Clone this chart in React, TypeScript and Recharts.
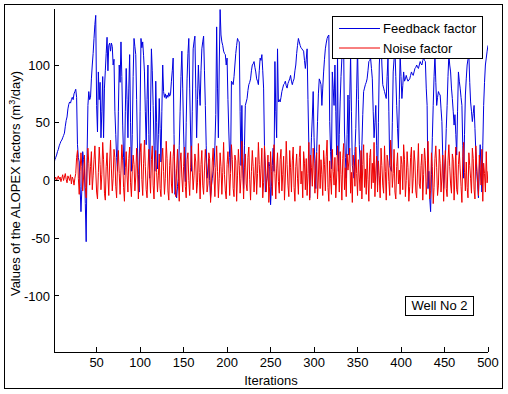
import { LineChart, Line, XAxis, YAxis, Legend, Label } from 'recharts'

const FONT = '"Liberation Sans", Arial, Helvetica, sans-serif'

const xTicks = [50, 100, 150, 200, 250, 300, 350, 400, 450, 500]
const yTicks = [-100, -50, 0, 50, 100]

const seriesNames = ['Feedback factor', 'Noise factor']
const seriesColors = ['#0000e0', '#f00000']

// feedback factor, iterations 1..500 (25 per row)
const feedbackValues = [
  15, 18, 20, 22, 25, 27, 30, 32, 34, 35, 37, 39, 41, 47, 52, 55, 62, 66, 68, 67, 70, 72, 70, 75, 77,
  79, 72, 31, 20, 16, -5, -27, -8, 25, 18, 10, -20, -53, 20, 65, 77, 70, 72, 88, 100, 110, 123, 135, 143, 65,
  42, 94, 70, 85, 37, 60, 90, 37, 80, 95, 110, 124, 95, 117, 119, 112, 119, 116, 100, 105, 60, 40, 20, 8, 60,
  100, 85, 120, 90, 48, 20, 5, 60, 97, 70, 37, 80, 109, 50, 8, 40, 90, 123, 116, 109, 70, 28, 5, -10, 60,
  123, 115, 120, 108, 94, 60, 31, 70, 100, 40, 2, 60, 114, 95, 65, 30, 8, 86, 50, 10, 40, 71, 45, 16, 60,
  100, 77, 72, 75, 71, 74, 72, 76, 73, 75, 86, 95, 106, 40, -12, -8, -15, -5, 2, 30, 60, 90, 112, 80, 42,
  15, -1, 50, 88, 110, 123, 80, 42, 8, 60, 114, 120, 125, 80, 37, 70, 100, 80, 65, 95, 114, 120, 125, 95, 65,
  30, 2, 10, 19, 0, -15, -5, 2, 8, 13, 30, 57, 133, 80, 37, 100, 148, 126, 120, 117, 112, 110, 109, 100, 106,
  70, 42, 20, 8, 86, 85, 83, 90, 100, 110, 117, 123, 121, 120, 60, 13, 65, 20, -7, 30, 65, 68, 71, 78, 83,
  85, 88, 95, 100, 101, 103, 98, 94, 88, 86, 83, 95, 106, 104, 109, 95, 80, 30, -10, -3, 2, 10, 16, 12, -21,
  -5, 13, 28, 8, 103, 60, 37, 114, 68, 70, 68, 72, 77, 80, 83, 84, 86, 82, 80, 84, 86, 88, 91, 86, 83,
  86, 88, 95, 100, 110, 117, 123, 120, 117, 115, 114, 113, 112, 104, 97, 105, 114, 70, 31, -15, 10, 37, 55, 77, 37,
  15, -7, 25, 51, 75, 88, 86, 83, 65, 80, 94, 105, 114, 119, 123, 125, 126, 51, 25, 10, 94, 80, 65, 100, 60,
  22, 109, 8, 40, 68, 90, 106, 115, 120, 42, 20, 2, 40, 74, 22, 70, 109, 60, 13, 8, 2, 25, 45, 80, 115,
  70, 31, 15, 2, 30, 57, 77, 80, 83, 85, 88, 95, 103, 104, 106, 97, 88, 60, 37, 50, 65, 30, -4, 50, 100,
  115, 123, 100, 83, 80, 77, 74, 71, 90, 106, 60, 13, 10, 8, 50, 94, 105, 114, 90, 65, 45, 28, 70, 109, 90,
  71, 82, 94, 86, 88, 91, 88, 86, 87, 88, 91, 94, 92, 91, 94, 97, 98, 100, 98, 97, 100, 103, 101, 100, 104,
  106, 104, 103, 80, 65, -7, 8, -15, -27, 5, 37, 65, 90, 109, 85, 65, 72, 77, 75, 74, 62, 51, 20, -7, 5,
  19, 45, 65, 90, 109, 100, 94, 80, 71, 60, 48, 57, 40, 22, 60, 94, 86, 80, 72, 65, 30, 2, 40, 74, 88,
  100, 105, 109, 85, 68, 60, 51, 58, 65, 45, 25, 8, -3, -15, 10, 31, 10, -10, 30, 65, 85, 100, 106, 112, 117,
]

// noise factor, iterations 1..500 (25 per row)
const noiseValues = [
  2, 1, 3, 0, 2, 4, 1, 3, -1, 2, 5, 0, 3, 6, 1, -2, 4, 2, 0, 5, -3, 3, 1, -4, 2,
  6, 20, 26, 2, -12, 8, 24, 12, -9, 3, 22, -6, -15, 10, 28, 15, -4, 12, 25, -8, 4, 18, 30, 9, -10,
  -16, 7, 29, 14, -8, 5, 33, 18, -11, -17, 12, 24, 3, -13, 16, 35, 10, -9, 2, 27, 20, -5, -15, 13, 26,
  6, -12, 9, 31, 17, -6, -18, 11, 25, 4, -10, 19, 29, -2, -14, 8, 22, 14, -9, 3, 28, 10, -16, 5, 24,
  32, 1, -13, 15, 35, 12, -8, -15, 9, 27, 5, -11, 18, 30, -4, -16, 14, 26, 7, -10, 4, 23, -7, -14, 17,
  28, 8, -12, 2, 34, 19, -9, -17, 13, 25, -3, -11, 21, 31, 6, -14, 10, 27, -1, -18, 16, 24, 3, -10, 12,
  29, -5, -15, 18, 24, 0, -13, 11, 30, 9, -8, 4, 23, 16, -11, -2, 32, 7, -16, 14, 26, -4, -12, 9, 27,
  15, -10, -3, 24, 19, -19, -6, 16, 28, 3, -14, 11, 30, 8, -15, 2, 24, 12, -12, 7, 33, 5, -9, -16, 14,
  25, 10, -13, 6, 31, 18, -7, -14, 22, 17, -18, 4, 27, 13, -11, 2, 34, 9, -16, 11, 23, -3, -9, 20, 29,
  1, -17, 8, 26, 12, -10, 4, 20, -12, 6, 33, 14, -6, 10, 28, -15, -2, 30, 16, -10, 4, 22, -19, -5, 25,
  8, -13, 15, 31, 6, -16, 10, 24, -1, -11, 18, 27, -9, 5, 21, -17, 3, 34, 14, -4, -14, 26, 11, -10, 17,
  29, -6, -18, 12, 23, 2, -12, 20, 30, -3, 8, -15, 25, 15, -8, 19, -13, 6, 33, -17, 22, 11, -5, 28, 9,
  -11, 16, 24, -16, 3, 31, -7, 18, 5, -13, 26, 14, -9, 21, 35, -6, -18, 17, 2, -12, 27, 8, -4, 20, -15,
  3, 30, 14, -10, 25, 5, -17, 19, 32, -8, 11, -14, 23, 9, 16, 28, -11, 7, -19, 22, 12, -5, 29, 6, -13,
  18, 3, -9, 26, -16, 14, 31, -6, 10, -12, 24, 1, -18, 20, 27, -7, 15, -2, 33, -14, 9, 21, -10, 17, 4,
  -15, 28, 13, -4, -11, 30, 8, -17, 22, 16, -1, -13, 35, 19, -6, 6, 27, -10, -16, 12, 24, -3, 9, -12, 21,
  14, -8, 31, 18, -14, 0, 25, 11, -18, -5, 20, 29, -11, 2, 26, 16, -9, -15, 10, 32, -3, -7, 13, 23, -17,
  5, 28, 17, -12, -1, 34, 8, -16, -9, 24, 12, -20, -6, 19, 30, 11, -13, -4, 27, 15, -10, 3, 22, -18, 9,
  26, -7, -14, 17, 31, 12, -3, -11, 23, 18, -17, 4, 29, -8, -12, 14, 25, 10, -5, -19, 21, 33, 7, -9, 16,
  -6, -15, 24, 13, 2, -11, 28, 19, -8, -16, 30, 13, 0, -13, 22, 11, -4, 27, -18, 15, 6, -10, 25, -2, 8,
]

const data = feedbackValues.map((v, i) => ({ it: i + 1, feedback: v, noise: noiseValues[i] }))

const X_DOMAIN = [1, 500]
const Y_DOMAIN = [-148.5, 148.5]

function BottomTick({ x, y, payload }: any) {
  return (
    <g>
      <line x1={x} y1={y} x2={x} y2={y - 5} stroke="#000" shapeRendering="crispEdges" />
      <text x={x} y={y + 14.5} textAnchor="middle" fontSize={13} fontFamily={FONT} fill="#000">
        {payload.value}
      </text>
    </g>
  )
}

function TopTick({ x, y }: any) {
  return <line x1={x} y1={y} x2={x} y2={y + 5} stroke="#000" shapeRendering="crispEdges" />
}

function LeftTick({ x, y, payload }: any) {
  return (
    <g>
      <line x1={x} y1={y} x2={x + 5} y2={y} stroke="#000" shapeRendering="crispEdges" />
      <text x={x - 4} y={y + 4.6} textAnchor="end" fontSize={13} fontFamily={FONT} fill="#000">
        {payload.value}
      </text>
    </g>
  )
}

function RightTick({ x, y }: any) {
  return <line x1={x} y1={y} x2={x - 5} y2={y} stroke="#000" shapeRendering="crispEdges" />
}

function YTitle({ viewBox }: any) {
  const cx = viewBox.x + 20
  const cy = viewBox.y + viewBox.height / 2 + 3
  return (
    <text
      x={cx}
      y={cy}
      transform={`rotate(-90, ${cx}, ${cy})`}
      textAnchor="middle"
      fontSize={13}
      fontFamily={FONT}
      fill="#000"
    >
      Values of the ALOPEX factors (m
      <tspan fontSize={9} dy={-5}>3</tspan>
      <tspan dy={5}>/day)</tspan>
    </text>
  )
}

function XTitle({ viewBox }: any) {
  return (
    <text
      x={viewBox.x + viewBox.width / 2}
      y={viewBox.y + 33}
      textAnchor="middle"
      fontSize={13}
      fontFamily={FONT}
      fill="#000"
    >
      Iterations
    </text>
  )
}

function LegendBox({ payload }: any) {
  const items = payload || []
  return (
    <svg width={151} height={43} style={{ display: 'block' }}>
      <rect x={0.5} y={0.5} width={150} height={42} fill="#fff" stroke="#000" />
      {items.map((p: any, i: number) => {
        const cy = 12.5 + i * 19.5
        return (
          <g key={i}>
            <line x1={7} y1={cy} x2={48} y2={cy} stroke={p.color} />
            <text x={51} y={cy + 4.6} fontSize={13} fontFamily={FONT} fill="#000">
              {p.value}
            </text>
          </g>
        )
      })}
    </svg>
  )
}

export default function App() {
  return (
    <div style={{ position: 'absolute', left: 0, top: 0, width: 508, height: 394, background: '#fff' }}>
      <div
        style={{
          position: 'absolute',
          left: 4,
          top: 4,
          width: 499,
          height: 385,
          boxSizing: 'border-box',
          border: '1px solid #000',
        }}
      />
      <LineChart width={508} height={394} data={data} margin={{ top: 9, right: 20, bottom: 0, left: 0 }}>
        <XAxis
          dataKey="it"
          type="number"
          domain={X_DOMAIN}
          ticks={xTicks}
          height={42}
          tickSize={0}
          tickMargin={0}
          tickLine={false}
          tick={<BottomTick />}
          axisLine={{ stroke: '#000', shapeRendering: 'crispEdges' }}
          allowDataOverflow
        >
          <Label content={<XTitle />} />
        </XAxis>
        <XAxis
          xAxisId="top"
          orientation="top"
          dataKey="it"
          type="number"
          domain={X_DOMAIN}
          ticks={xTicks}
          height={0}
          tickSize={0}
          tickMargin={0}
          tickLine={false}
          tick={<TopTick />}
          axisLine={{ stroke: '#000', shapeRendering: 'crispEdges' }}
          allowDataOverflow
        />
        <YAxis
          type="number"
          domain={Y_DOMAIN}
          ticks={yTicks}
          width={54}
          tickSize={0}
          tickMargin={0}
          tickLine={false}
          tick={<LeftTick />}
          axisLine={{ stroke: '#000', shapeRendering: 'crispEdges' }}
          allowDataOverflow
        >
          <Label content={<YTitle />} />
        </YAxis>
        <YAxis
          yAxisId="right"
          orientation="right"
          type="number"
          domain={Y_DOMAIN}
          ticks={yTicks}
          width={0}
          tickSize={0}
          tickMargin={0}
          tickLine={false}
          tick={<RightTick />}
          axisLine={{ stroke: '#000', shapeRendering: 'crispEdges' }}
          allowDataOverflow
        />
        <Legend
          layout="vertical"
          align="center"
          verticalAlign="middle"
          content={<LegendBox />}
          wrapperStyle={{ left: 332, top: 16, width: 151, height: 43, right: 'auto', bottom: 'auto' }}
        />
        <Line
          dataKey="feedback"
          name={seriesNames[0]}
          stroke={seriesColors[0]}
          strokeWidth={1}
          dot={false}
          isAnimationActive={false}
        />
        <Line
          dataKey="noise"
          name={seriesNames[1]}
          stroke={seriesColors[1]}
          strokeWidth={1}
          dot={false}
          isAnimationActive={false}
        />
      </LineChart>
      <div
        style={{
          position: 'absolute',
          left: 405,
          top: 296,
          width: 69,
          height: 20,
          boxSizing: 'border-box',
          border: '1px solid #000',
          background: '#fff',
          fontFamily: FONT,
          fontSize: 13,
          lineHeight: '18px',
          textAlign: 'center',
          color: '#000',
        }}
      >
        Well No 2
      </div>
    </div>
  )
}
